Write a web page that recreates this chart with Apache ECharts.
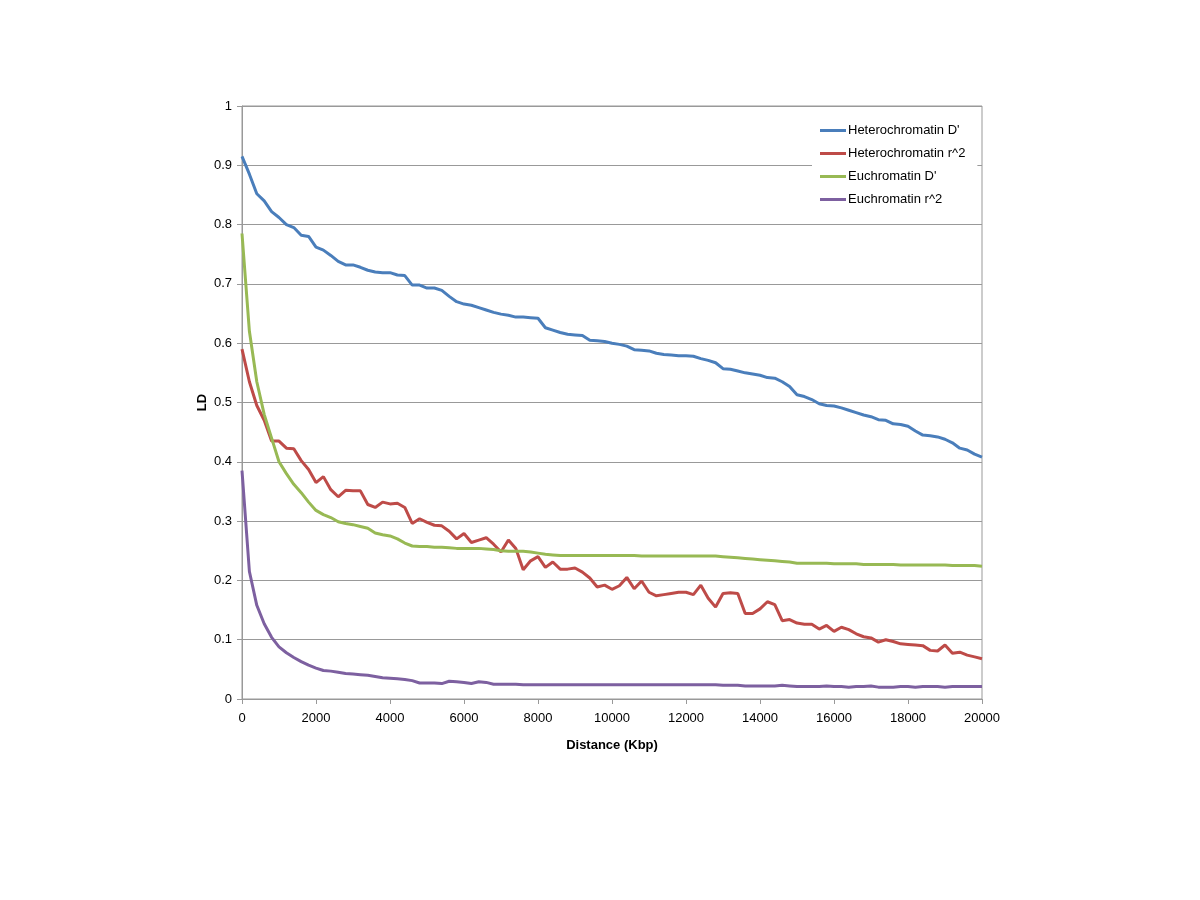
<!DOCTYPE html>
<html>
<head>
<meta charset="utf-8">
<script src="https://cdn.jsdelivr.net/npm/echarts@6/dist/echarts.min.js"></script>
<style>html,body{margin:0;padding:0;background:#fff;}#c{width:1200px;height:900px;}</style>
</head>
<body>
<div id="c"></div>
<script>
const distance = [0,200,400,600,800,1000,1200,1400,1600,1800,
2000,2200,2400,2600,2800,3000,3200,3400,3600,3800,
4000,4200,4400,4600,4800,5000,5200,5400,5600,5800,
6000,6200,6400,6600,6800,7000,7200,7400,7600,7800,
8000,8200,8400,8600,8800,9000,9200,9400,9600,9800,
10000,10200,10400,10600,10800,11000,11200,11400,11600,11800,
12000,12200,12400,12600,12800,13000,13200,13400,13600,13800,
14000,14200,14400,14600,14800,15000,15200,15400,15600,15800,
16000,16200,16400,16600,16800,17000,17200,17400,17600,17800,
18000,18200,18400,18600,18800,19000,19200,19400,19600,19800,
20000];

const heteroD = [0.915,0.885,0.852,0.84,0.822,0.812,0.8,0.795,0.782,0.78,
0.762,0.757,0.748,0.738,0.732,0.732,0.728,0.723,0.72,0.719,
0.719,0.715,0.714,0.698,0.698,0.693,0.693,0.689,0.679,0.67,
0.666,0.664,0.66,0.656,0.652,0.649,0.647,0.644,0.644,0.643,
0.642,0.626,0.622,0.618,0.615,0.614,0.613,0.605,0.604,0.603,
0.6,0.598,0.595,0.589,0.588,0.587,0.583,0.581,0.58,0.579,
0.579,0.578,0.574,0.571,0.567,0.557,0.556,0.553,0.55,0.548,
0.546,0.542,0.541,0.535,0.527,0.513,0.51,0.505,0.498,0.495,
0.494,0.491,0.487,0.483,0.479,0.476,0.471,0.47,0.464,0.463,
0.46,0.452,0.445,0.444,0.442,0.438,0.432,0.423,0.42,0.413,
0.408];

const heteroR2 = [0.59,0.535,0.495,0.47,0.435,0.435,0.423,0.422,0.402,0.387,
0.365,0.375,0.353,0.341,0.352,0.351,0.351,0.328,0.323,0.332,
0.329,0.33,0.323,0.296,0.304,0.298,0.293,0.292,0.283,0.27,
0.279,0.264,0.268,0.272,0.261,0.248,0.268,0.254,0.218,0.233,
0.24,0.222,0.231,0.219,0.219,0.221,0.214,0.204,0.189,0.192,
0.185,0.191,0.205,0.186,0.199,0.18,0.174,0.176,0.178,0.18,
0.18,0.176,0.192,0.17,0.155,0.178,0.179,0.178,0.144,0.144,
0.152,0.164,0.159,0.132,0.134,0.128,0.126,0.126,0.118,0.124,
0.114,0.121,0.117,0.11,0.105,0.103,0.096,0.1,0.097,0.093,
0.092,0.091,0.09,0.082,0.081,0.091,0.077,0.079,0.074,0.071,
0.068];

const euD = [0.785,0.62,0.535,0.48,0.44,0.4,0.38,0.362,0.348,0.332,
0.318,0.311,0.306,0.299,0.296,0.294,0.291,0.288,0.28,0.277,
0.275,0.27,0.263,0.258,0.257,0.257,0.256,0.256,0.255,0.254,
0.254,0.254,0.254,0.253,0.252,0.25,0.249,0.249,0.249,0.248,
0.246,0.244,0.243,0.242,0.242,0.242,0.242,0.242,0.242,0.242,
0.242,0.242,0.242,0.242,0.241,0.241,0.241,0.241,0.241,0.241,
0.241,0.241,0.241,0.241,0.241,0.24,0.239,0.238,0.237,0.236,
0.235,0.234,0.233,0.232,0.231,0.229,0.229,0.229,0.229,0.229,
0.228,0.228,0.228,0.228,0.227,0.227,0.227,0.227,0.227,0.226,
0.226,0.226,0.226,0.226,0.226,0.226,0.225,0.225,0.225,0.225,
0.224];

const euR2 = [0.385,0.215,0.158,0.127,0.104,0.088,0.078,0.07,0.063,0.057,
0.052,0.048,0.047,0.045,0.043,0.042,0.041,0.04,0.038,0.036,
0.035,0.034,0.033,0.031,0.027,0.027,0.027,0.026,0.03,0.029,
0.028,0.026,0.029,0.028,0.025,0.025,0.025,0.025,0.024,0.024,
0.024,0.024,0.024,0.024,0.024,0.024,0.024,0.024,0.024,0.024,
0.024,0.024,0.024,0.024,0.024,0.024,0.024,0.024,0.024,0.024,
0.024,0.024,0.024,0.024,0.024,0.023,0.023,0.023,0.022,0.022,
0.022,0.022,0.022,0.023,0.022,0.021,0.021,0.021,0.021,0.022,
0.021,0.021,0.02,0.021,0.021,0.022,0.02,0.02,0.02,0.021,
0.021,0.02,0.021,0.021,0.021,0.02,0.021,0.021,0.021,0.021,
0.021];

const seriesNames = ["Heterochromatin D'", "Heterochromatin r^2", "Euchromatin D'", "Euchromatin r^2"];
const seriesColors = ['#4a7ebb', '#be4b48', '#98b954', '#7d60a0'];
const seriesValues = [heteroD, heteroR2, euD, euR2];

const font = 'Liberation Sans, Arial, sans-serif';
const chart = echarts.init(document.getElementById('c'), null, {renderer: 'canvas'});
chart.setOption({
  backgroundColor: '#fff',
  animation: false,
  grid: {left: 242, right: 218, top: 106, bottom: 201, show: true, borderColor: '#999', borderWidth: 1, backgroundColor: 'transparent'},
  legend: {
    orient: 'vertical', left: 812, top: 119,
    backgroundColor: '#fff', padding: [5, 12, 5, 8],
    itemWidth: 26, itemHeight: 3, itemGap: 10, icon: 'rect',
    textStyle: {fontFamily: font, fontSize: 13, color: '#000', padding: [0, 0, 0, -3]},
    data: seriesNames
  },
  xAxis: {
    type: 'value', min: 0, max: 20000, interval: 2000,
    name: 'Distance (Kbp)', nameLocation: 'middle', nameGap: 40, nameMoveOverlap: false,
    nameTextStyle: {fontFamily: font, fontSize: 13, fontWeight: 'bold', color: '#000'},
    axisLine: {show: true, lineStyle: {color: '#999'}},
    axisTick: {show: true, length: 5, lineStyle: {color: '#999'}},
    axisLabel: {fontFamily: font, fontSize: 13, color: '#000', margin: 13, formatter: v => String(v)},
    splitLine: {show: false}
  },
  yAxis: {
    type: 'value', min: 0, max: 1, interval: 0.1,
    name: 'LD', nameLocation: 'middle', nameGap: 33, nameRotate: 90, nameMoveOverlap: false,
    nameTextStyle: {fontFamily: font, fontSize: 13, fontWeight: 'bold', color: '#000'},
    axisLine: {show: true, lineStyle: {color: '#999'}},
    axisTick: {show: true, length: 5, lineStyle: {color: '#999'}},
    axisLabel: {fontFamily: font, fontSize: 13, color: '#000', margin: 10},
    splitLine: {show: true, lineStyle: {color: '#999', width: 1}}
  },
  series: seriesNames.map((n, i) => ({
    name: n, type: 'line', showSymbol: false, symbol: 'none',
    color: seriesColors[i],
    lineStyle: {width: 3, color: seriesColors[i]},
    data: distance.map((d, k) => [d, seriesValues[i][k]])
  }))
});
</script>
</body>
</html>
